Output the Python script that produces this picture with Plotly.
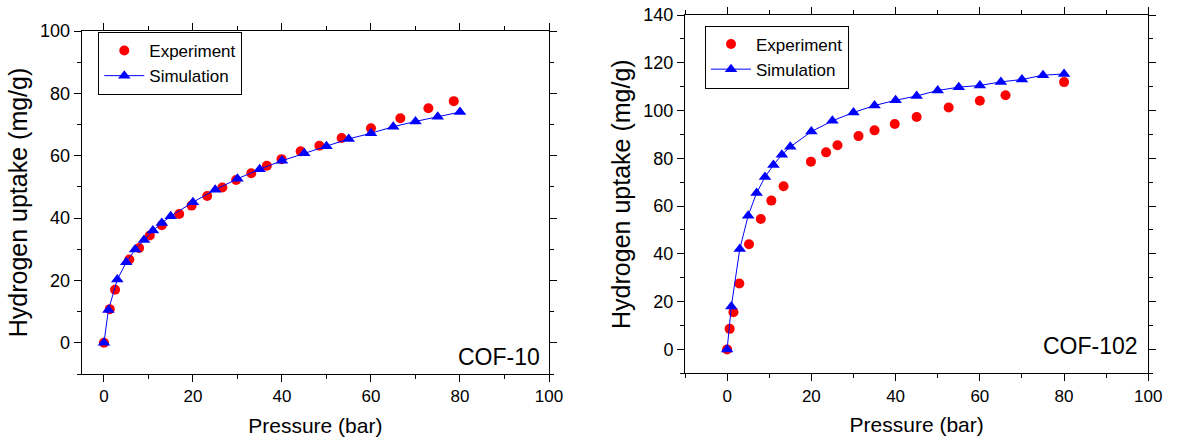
import plotly.graph_objects as go

# COF-10 data
cof10_exp_p = [0, 1.3, 2.5, 5.7, 7.9, 10.3, 13.0, 16.9, 19.7, 23.2, 26.6, 29.7, 33.1, 36.6, 39.9, 44.2, 48.4, 53.4, 60.0, 66.6, 72.9, 78.6]
cof10_exp_u = [0, 10.8, 17.0, 26.7, 30.4, 34.4, 37.7, 41.3, 44.0, 47.1, 49.8, 52.2, 54.4, 56.8, 58.9, 61.4, 63.2, 65.7, 68.8, 72.0, 75.2, 77.5]
cof10_sim_p = [0, 1, 3, 5, 7, 9, 11, 13, 15, 20, 25, 30, 35, 40, 45, 50, 55, 60, 65, 70, 75, 80]
cof10_sim_u = [0, 10.5, 20.3, 25.8, 29.9, 33.0, 36.0, 38.4, 40.6, 45.1, 49.1, 52.6, 55.7, 58.4, 60.8, 63.0, 65.4, 67.2, 69.3, 71.0, 72.5, 74.0]

# COF-102 data
cof102_exp_p = [0, 0.6, 1.5, 2.9, 5.2, 8.0, 10.5, 13.4, 19.9, 23.5, 26.2, 31.2, 35.0, 39.8, 45.0, 52.6, 60.0, 66.1, 80.0]
cof102_exp_u = [0, 8.6, 15.6, 27.6, 44.0, 54.6, 62.3, 68.3, 78.6, 82.5, 85.5, 89.3, 91.7, 94.4, 97.3, 101.3, 104.1, 106.4, 111.9]
cof102_sim_p = [0, 1, 3, 5, 7, 9, 11, 13, 15, 20, 25, 30, 35, 40, 45, 50, 55, 60, 65, 70, 75, 80]
cof102_sim_u = [0, 18.0, 42.0, 56.0, 65.5, 72.2, 77.2, 81.5, 84.8, 91.2, 95.7, 99.2, 102.1, 104.3, 106.1, 108.4, 109.8, 110.5, 112.0, 113.0, 114.8, 115.3]

labels = ["COF-10", "COF-102"]
x_title = "Pressure (bar)"
y_title = "Hydrogen uptake (mg/g)"

FONT = "Arial, Liberation Sans, sans-serif"
RED = "#FF0000"
BLUE = "#0000FF"

fig = go.Figure()

fig.add_trace(go.Scatter(x=cof10_exp_p, y=cof10_exp_u, mode="markers", name="Experiment",
                         marker=dict(symbol="circle", size=10, color=RED),
                         xaxis="x", yaxis="y", legend="legend"))
fig.add_trace(go.Scatter(x=cof10_sim_p, y=cof10_sim_u, mode="lines+markers", name="Simulation",
                         marker=dict(symbol="triangle-up", size=11, color=BLUE),
                         line=dict(color=BLUE, width=1),
                         xaxis="x", yaxis="y", legend="legend"))
fig.add_trace(go.Scatter(x=cof102_exp_p, y=cof102_exp_u, mode="markers", name="Experiment",
                         marker=dict(symbol="circle", size=10, color=RED),
                         xaxis="x2", yaxis="y2", legend="legend2"))
fig.add_trace(go.Scatter(x=cof102_sim_p, y=cof102_sim_u, mode="lines+markers", name="Simulation",
                         marker=dict(symbol="triangle-up", size=11, color=BLUE),
                         line=dict(color=BLUE, width=1),
                         xaxis="x2", yaxis="y2", legend="legend2"))

W, H = 1195, 443

def axis_common(tsize):
    return dict(showgrid=False, zeroline=False, showline=True, linecolor="black", linewidth=1,
                mirror="allticks", ticks="outside", ticklen=7, tickwidth=1, tickcolor="black",
                automargin=False,
                tickfont=dict(family=FONT, size=tsize, color="black"))

def minor():
    return dict(ticks="outside", ticklen=4, dtick=10, tick0=0, tickwidth=1, tickcolor="black")

xtitle_font = dict(family=FONT, size=21, color="black")
ytitle_font = dict(family=FONT, size=25, color="black")

xa = axis_common(17); xa.update(domain=[81.7 / W, 549 / W], range=[-5, 100], dtick=20, tick0=0,
                                minor=minor(), anchor="y",
                                title=dict(text=x_title, font=xtitle_font, standoff=12))
ya = axis_common(18); ya.update(domain=[1 - 374 / H, 1 - 31 / H], range=[-10, 100], dtick=20, tick0=0,
                                minor=minor(), anchor="x",
                                title=dict(text=y_title, font=ytitle_font, standoff=5))
xa2 = axis_common(17); xa2.update(domain=[685 / W, 1148.3 / W], range=[-10, 100], dtick=20, tick0=0,
                                  minor=minor(), anchor="y2",
                                  title=dict(text=x_title, font=xtitle_font, standoff=12))
ya2 = axis_common(18); ya2.update(domain=[1 - 373.3 / H, 1 - 15 / H], range=[-10, 140], dtick=20, tick0=0,
                                  minor=minor(), anchor="x2",
                                  title=dict(text=y_title, font=ytitle_font, standoff=5))

legend_style = dict(bgcolor="white", bordercolor="black", borderwidth=1,
                    font=dict(family=FONT, size=17, color="black"),
                    xanchor="left", yanchor="top", itemwidth=40, tracegroupgap=0)

fig.update_layout(
    width=W, height=H,
    margin=dict(l=0, r=0, t=0, b=0, autoexpand=False),
    paper_bgcolor="white", plot_bgcolor="white",
    xaxis=xa, yaxis=ya, xaxis2=xa2, yaxis2=ya2,
    legend=dict(x=98.3 / W, y=1 - 32 / H, **legend_style),
    legend2=dict(x=705 / W, y=1 - 25.5 / H, **legend_style),
    annotations=[
        dict(text=labels[0], xref="x domain", yref="y domain", x=0.984, y=0.0496,
             xanchor="right", yanchor="middle", showarrow=False,
             font=dict(family=FONT, size=23, color="black")),
        dict(text=labels[1], xref="x2 domain", yref="y2 domain", x=0.982, y=0.0762,
             xanchor="right", yanchor="middle", showarrow=False,
             font=dict(family=FONT, size=23, color="black")),
    ],
    showlegend=True,
)

fig.write_html("out.html", config={"displayModeBar": False})

# remove the default body margin so the figure sits at the page origin
with open("out.html", "r", encoding="utf-8") as f:
    html = f.read()
html = html.replace("<body>", '<body style="margin:0;padding:0;">', 1)
with open("out.html", "w", encoding="utf-8") as f:
    f.write(html)
